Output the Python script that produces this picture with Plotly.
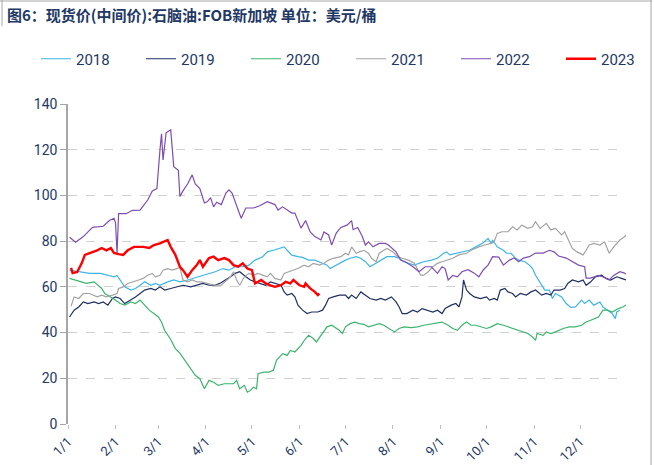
import pandas as pd
import plotly.graph_objects as go

# ---------------- data (day offset from Jan 1, value in USD/bbl) ----------------
d2018 = [1,8,14,21,25,30,32,34,37,41,44,47,50,54,57,60,65,69,73,78,83,87,92,96,101,105,109,114,118,122,127,130,134,138,141,143,146,150,153,157,161,166,169,171,175,178,181,184,188,191,194,197,201,204,208,213,216,219,222,226,229,232,237,241,245,247,249,253,257,262,266,268,271,274,276,277,280,284,286,289,292,294,298,301,303,305,307,311,314,316,318,322,325,328,331,335,337,340,343,347,349,352,355,357,358,360]
v2018 = [67.3,66.6,65.9,65.9,65.1,64.4,65.0,63.0,60.0,58.6,59.3,60.7,62.2,60.7,61.5,60.7,62.2,63.0,62.2,63.0,64.0,64.8,65.9,66.6,68.0,67.3,68.8,68.8,69.5,71.7,73.2,75.3,76.0,76.8,77.5,76.0,73.9,73.2,72.9,71.7,71.7,70.3,69.5,68.0,69.5,70.3,71.7,72.5,73.2,72.5,71.0,68.8,70.3,71.7,73.2,73.2,72.5,71.0,70.3,69.5,70.3,71.0,71.7,72.5,74.7,75.3,74.0,74.7,75.3,76.0,77.5,78.3,79.3,81.2,79.0,80.5,77.5,76.0,74.7,74.7,72.5,71.7,71.0,69.5,68.0,65.1,63.0,58.6,58.6,54.9,57.1,55.6,52.7,51.0,51.2,54.2,52.7,54.2,52.0,53.4,51.2,49.8,48.3,46.1,49.0,49.8]

d2019 = [1,4,7,10,13,17,20,23,26,29,31,34,37,41,44,47,50,54,57,60,63,67,71,75,80,84,88,92,96,99,103,106,109,112,116,119,122,126,129,132,135,139,141,143,146,148,150,153,156,159,163,166,168,170,173,177,181,183,185,188,191,194,197,201,204,207,211,214,216,218,221,225,228,231,234,238,241,244,246,250,253,255,257,258,260,262,265,269,273,275,278,280,282,285,287,290,292,295,299,302,305,309,312,315,317,321,324,326,329,333,336,338,341,344,348,351,354,358,361,364]
v2019 = [46.8,49.8,51.2,53.4,52.7,53.4,52.7,53.4,52.0,54.9,55.6,54.9,52.7,54.2,55.6,57.1,58.6,59.3,58.6,60.0,58.6,59.3,60.0,60.7,60.0,60.7,61.5,60.7,60.7,61.5,63.0,64.4,65.9,66.6,64.4,63.0,62.2,61.5,60.7,62.2,61.5,60.7,57.8,56.4,57.1,55.6,52.0,49.8,48.3,49.0,49.0,49.8,52.0,54.9,55.6,56.4,56.4,54.9,56.4,54.9,57.8,56.4,54.9,54.2,54.9,54.2,55.6,53.4,51.2,48.3,48.3,49.8,49.0,50.5,49.8,49.0,49.8,48.3,50.5,52.0,52.7,51.2,55.6,63.0,58.6,57.1,55.6,54.9,55.6,54.2,54.9,54.2,58.6,59.3,57.8,57.1,55.6,57.1,56.4,57.8,58.6,56.4,57.1,56.4,58.6,58.6,59.3,61.5,63.0,62.2,63.0,60.7,62.2,64.4,65.1,63.7,63.0,64.4,63.7,63.0]

d2020 = [1,5,8,12,17,20,22,24,28,31,34,37,41,44,47,50,53,56,59,61,63,67,70,73,77,80,83,86,89,92,95,98,102,105,108,110,112,115,117,119,121,123,124,128,131,134,136,140,143,145,148,152,155,157,160,162,166,169,172,175,177,179,181,184,187,190,193,196,200,203,206,209,213,216,219,224,228,232,237,241,244,248,251,254,257,260,263,266,269,273,276,280,284,287,290,293,297,300,303,305,306,310,312,315,318,323,327,331,335,338,341,346,349,352,355,359,362,364]
v2020 = [63.7,63.0,62.2,61.5,62.2,60.7,59.3,57.1,55.6,54.2,52.7,52.0,53.4,52.7,54.2,52.0,49.8,48.3,46.8,44.6,41.0,37.0,33.0,31.0,27.0,24.0,21.3,19.8,15.4,19.1,18.3,16.9,17.6,17.6,17.6,19.1,15.4,16.9,13.9,14.7,16.1,15.4,22.0,22.7,22.7,23.5,27.9,30.8,30.0,32.2,31.5,34.4,37.4,38.8,37.4,35.9,39.6,42.5,43.2,41.8,41.0,39.6,42.5,43.9,44.6,43.9,43.6,42.5,43.2,43.9,43.2,41.8,40.3,41.8,42.5,42.2,42.5,43.2,43.9,44.2,44.6,43.2,41.8,41.0,43.2,44.6,43.2,43.2,42.5,41.8,42.5,43.9,43.2,42.5,41.8,41.0,40.3,39.6,38.1,36.6,39.6,38.8,40.3,39.6,40.3,41.8,42.5,42.5,43.2,44.6,45.4,46.8,49.8,49.8,49.0,50.5,51.2,52.0]

d2021 = [2,4,7,10,14,19,22,25,29,32,33,36,39,43,46,49,52,55,57,60,62,65,68,71,73,75,78,81,84,87,91,96,100,104,106,108,110,112,115,118,121,124,128,130,132,135,139,141,144,147,150,154,157,160,164,167,170,173,178,181,183,185,188,190,193,196,198,201,203,206,208,212,215,218,222,226,228,230,232,235,238,241,244,247,251,255,260,263,268,272,276,278,280,283,287,290,293,296,300,303,305,308,312,315,318,322,324,326,329,332,336,338,340,343,347,350,353,356,360,363,364]
v2021 = [51.5,55.6,54.9,57.1,57.1,55.6,56.4,55.6,56.4,57.1,59.3,60.0,61.5,62.2,63.0,63.7,65.1,65.9,64.4,65.1,67.3,68.0,67.3,68.0,68.5,63.0,62.2,63.0,62.2,62.2,61.5,60.7,60.7,63.0,64.4,66.6,63.0,60.7,64.4,65.9,65.1,65.9,65.1,64.4,65.9,63.7,63.0,65.9,66.6,67.3,68.0,69.5,68.8,70.3,69.5,70.3,71.7,72.5,73.2,74.7,74.0,77.5,74.7,75.3,76.0,74.7,72.5,71.0,74.7,76.0,76.8,75.3,73.2,72.5,71.7,70.3,68.0,65.1,65.1,66.6,68.8,70.3,71.0,71.7,72.5,74.0,74.7,76.0,77.5,78.3,79.0,79.7,83.4,84.1,84.1,86.3,84.9,87.0,85.6,86.3,88.5,85.6,87.8,84.9,85.6,82.7,84.1,81.2,76.8,75.3,74.0,76.0,78.3,79.0,78.3,79.7,74.7,77.5,80.5,81.9,82.7]

d2022 = [1,5,10,16,23,27,30,31,32,33,38,42,47,52,55,58,60,61,62,64,67,69,72,73,75,78,81,83,86,89,91,93,95,97,100,103,105,107,111,113,116,121,125,130,135,137,140,146,148,152,155,158,161,165,167,170,172,175,178,182,185,186,189,192,194,196,199,203,207,209,214,217,220,225,229,233,237,241,244,246,248,251,254,257,261,265,268,271,274,277,281,284,288,291,294,297,301,305,310,314,317,320,325,329,333,337,338,341,346,349,353,356,360,363,364]
v2022 = [81.7,79.5,82.0,86.0,86.5,89.0,90.0,88.0,74.7,92.0,92.0,93.5,93.6,98.0,102.0,103.0,120.0,127.0,115.5,127.4,128.7,112.6,111.0,99.5,102.0,105.0,109.0,105.0,103.0,96.7,97.3,99.0,95.0,97.0,96.0,101.0,102.4,101.0,93.6,90.0,94.5,94.5,95.5,97.3,96.0,93.6,95.0,92.3,92.3,85.7,89.0,84.0,82.0,80.5,84.0,82.7,78.3,83.5,86.0,87.0,89.0,85.0,86.0,82.0,78.3,79.7,77.5,79.0,79.0,78.3,75.3,71.7,71.0,68.8,66.6,68.8,68.8,65.9,68.8,68.0,63.0,65.0,64.4,66.6,67.5,66.0,64.4,67.5,69.5,73.2,73.0,69.5,71.7,72.6,71.0,72.6,73.2,74.8,74.8,76.0,75.3,73.5,72.6,71.0,69.5,68.8,63.8,63.8,65.0,64.4,63.0,65.0,66.6,66.0,65.5]

d2023 = [2,3,6,9,11,14,17,19,22,25,28,30,33,36,39,43,46,49,53,56,60,65,67,70,73,75,78,81,84,86,88,92,95,98,102,105,108,111,114,117,120,122,126,129,132,135,139,142,145,147,151,154,155,158,161,163,164]
v2023 = [68.3,66.0,66.5,70.4,74.0,74.8,75.3,76.0,77.0,76.0,77.0,74.8,74.3,74.0,76.0,77.5,77.5,77.5,77.0,78.3,79.0,80.5,77.5,74.0,68.8,67.3,64.4,67.3,69.5,71.7,68.8,72.6,73.2,71.7,72.6,71.7,69.5,68.8,70.3,68.0,67.3,61.5,63.0,61.5,60.7,60.0,60.7,62.2,61.5,63.0,60.7,60.0,61.5,59.3,57.8,56.4,57.0]

years = ["2018", "2019", "2020", "2021", "2022", "2023"]
days = [d2018, d2019, d2020, d2021, d2022, d2023]
vals = [v2018, v2019, v2020, v2021, v2022, v2023]
colors = ["#3DB5E6", "#1F2F63", "#3DB46D", "#A3A3A3", "#7E4DB2", "#FF0000"]
widths = [1.2, 1.2, 1.2, 1.2, 1.2, 2.4]

month_ticks = ["1/1", "2/1", "3/1", "4/1", "5/1", "6/1", "7/1", "8/1", "9/1", "10/1", "11/1", "12/1"]
y_ticks = [0, 20, 40, 60, 80, 100, 120, 140]

base = pd.Timestamp("2001-01-01")
tickvals = [pd.Timestamp(f"2001-{m}-01") for m in range(1, 13)]

fig = go.Figure()
for yr, d, v, c, w in zip(years, days, vals, colors, widths):
    fig.add_trace(go.Scatter(
        x=[base + pd.Timedelta(days=k) for k in d], y=v, name=yr, mode="lines",
        line=dict(color=c, width=w),
    ))

navy = "#1F3864"
L, R, T, B = 68, 28, 104, 41
W, H = 654, 465
pw, ph = W - L - R, H - T - B


def px(xp):
    return (xp - L) / pw


def py(yp):
    return (H - B - yp) / ph


fig.update_layout(
    width=W, height=H,
    margin=dict(l=L, r=R, t=T, b=B, autoexpand=False),
    paper_bgcolor="white", plot_bgcolor="white",
    font=dict(family="Roboto, 'Noto Sans CJK SC', sans-serif", color=navy),
    showlegend=True,
    legend=dict(
        orientation="h", x=px(36), y=py(59), xanchor="left", yanchor="middle",
        font=dict(size=15, color=navy), entrywidth=60, entrywidthmode="pixels",
        bgcolor="rgba(0,0,0,0)", itemwidth=30,
    ),
    xaxis=dict(
        type="date", range=[pd.Timestamp("2001-01-01"), pd.Timestamp("2001-12-31")],
        tickvals=tickvals, ticktext=month_ticks, tickangle=-45, automargin=False,
        showgrid=False, zeroline=False, showline=False,
        ticks="outside", ticklen=4, tickcolor="#BFBFBF",
        tickfont=dict(size=13, color=navy),
    ),
    yaxis=dict(
        range=[0, 140], tickvals=y_ticks, showgrid=True, gridcolor="#D0D0D0",
        griddash="dash", gridwidth=1, zeroline=False, automargin=False,
        showline=True, linecolor="#A6A6A6", linewidth=1.5,
        ticks="outside", ticklen=6, tickcolor="#A6A6A6",
        tickfont=dict(size=14, color=navy),
    ),
    annotations=[dict(
        text="<b>图6：现货价(中间价):石脑油:FOB新加坡 单位：美元/桶</b>",
        xref="paper", yref="paper", x=px(5), y=py(14), xanchor="left", yanchor="middle",
        showarrow=False, font=dict(family="'Noto Sans CJK SC', sans-serif", size=15, color=navy),
    )],
    shapes=[
        dict(type="line", xref="paper", yref="paper", x0=px(0), x1=px(652), y0=py(1), y1=py(1),
             line=dict(color="#A6A6A6", width=1)),
        dict(type="line", xref="paper", yref="paper", x0=px(2), x1=px(2), y0=py(0), y1=py(26),
             line=dict(color="#A6A6A6", width=1)),
        dict(type="line", xref="paper", yref="paper", x0=px(651), x1=px(651), y0=py(0), y1=py(465),
             line=dict(color="#A6A6A6", width=1)),
    ],
)

fig.write_html(
    "out.html",
    config={"displayModeBar": False},
    post_script="document.body.style.margin='0px';document.body.style.overflow='hidden';",
)
